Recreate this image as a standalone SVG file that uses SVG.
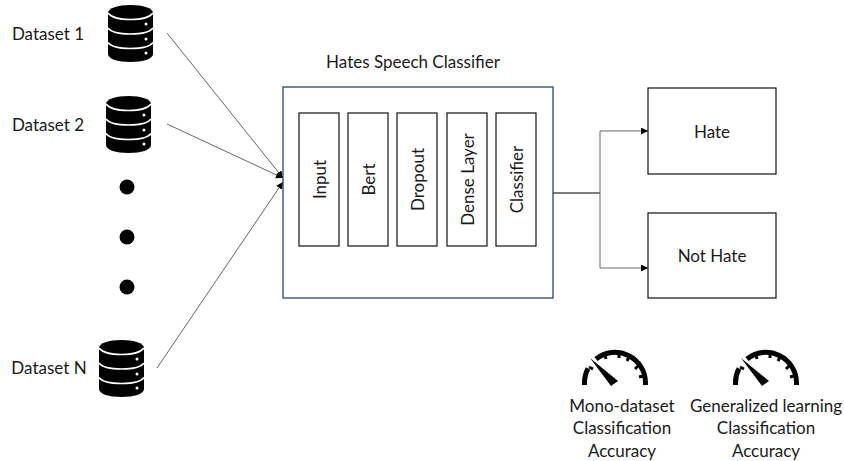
<svg xmlns="http://www.w3.org/2000/svg" xmlns:xlink="http://www.w3.org/1999/xlink" width="844" height="461" viewBox="0 0 844 461">
<style>
text{font-family:"Lato","Liberation Sans",sans-serif;font-size:17px;fill:#1a1a1a;text-anchor:middle}
.box{fill:#fff;stroke:#111;stroke-width:1.2}
.con{fill:none;stroke:#666;stroke-width:1}
</style>
<defs>
<marker id="arr" markerUnits="userSpaceOnUse" markerWidth="8" markerHeight="8" refX="7" refY="3.500" orient="auto"><path d="M0 0L7 3.500L0 7Z" fill="#000"/></marker>
<g id="db">
<path d="M0 9C0 4 10 1 22.500 1S45 4 45 9V50C45 55 35 58 22.500 58S0 55 0 50Z" fill="#000"/>
<path d="M0 9C3 13 12 15.500 22.500 15.500S42 13 45 9M0 24C3 28 12 30 22.500 30S42 28 45 24M0 38.500C3 42.500 12 44.500 22.500 44.500S42 42.500 45 38.500" fill="none" stroke="#fff" stroke-width="1.7"/>
<circle cx="38" cy="20" r="1.500" fill="#fff"/><circle cx="38" cy="35" r="1.500" fill="#fff"/><circle cx="38" cy="49" r="1.500" fill="#fff"/>
</g>
<g id="gauge">
<path d="M-30.500 45V43A30.500 30.500 0 0 1 -27 28.500M-19 19A30.500 30.500 0 0 1 30.500 43V45" fill="none" stroke="#000" stroke-width="5"/>
<path d="M-26 27L-22 29M-10 15L-9 19M4 13V18M14 17L12 21M23 26L20 29M28 36L24 37" stroke="#000" stroke-width="3" fill="none"/>
<path d="M-25 18L3 41L-4 46Z" fill="#000"/>
</g>
</defs>
<g id="connectors">
<path class="con" d="M167 33L283 178" marker-end="url(#arr)"/>
<path class="con" d="M167 124L283 178" marker-end="url(#arr)"/>
<path class="con" d="M157 368L283 182" marker-end="url(#arr)"/>
<path d="M553 193H600" fill="none" stroke="#000" stroke-width="1.2"/>
<path class="con" d="M600 193V131H648" marker-end="url(#arr)"/>
<path class="con" d="M600 193V268H648" marker-end="url(#arr)"/>
</g>
<g id="dataset1"><use xlink:href="#db" x="108" y="4"/><text x="48" y="40">Dataset 1</text></g>
<g id="dataset2"><use xlink:href="#db" x="106" y="95"/><text x="48" y="131">Dataset 2</text></g>
<g id="dots"><circle cx="127" cy="187" r="7.500"/><circle cx="127" cy="237" r="7.500"/><circle cx="127" cy="287" r="7.500"/></g>
<g id="datasetN"><use xlink:href="#db" x="99" y="339"/><text x="49" y="374">Dataset N</text></g>
<g id="classifier">
<text x="413" y="68">Hates Speech Classifier</text>
<rect x="283" y="87" width="270" height="211" fill="none" stroke="#2f4468" stroke-width="1.300"/>
</g>
<g id="input"><rect class="box" x="299" y="113" width="40" height="133"/><text transform="translate(326 179.500) rotate(-90)">Input</text></g>
<g id="bert"><rect class="box" x="348" y="113" width="40" height="133"/><text transform="translate(375 179.500) rotate(-90)">Bert</text></g>
<g id="dropout"><rect class="box" x="397" y="113" width="40" height="133"/><text transform="translate(424 179.500) rotate(-90)">Dropout</text></g>
<g id="dense"><rect class="box" x="447" y="113" width="40" height="133"/><text transform="translate(474 179.500) rotate(-90)">Dense Layer</text></g>
<g id="clf"><rect class="box" x="496" y="113" width="40" height="133"/><text transform="translate(523 179.500) rotate(-90)">Classifier</text></g>
<g id="hate"><rect class="box" x="648" y="88" width="128" height="86"/><text x="712" y="138">Hate</text></g>
<g id="nothate"><rect class="box" x="648" y="213" width="128" height="85"/><text x="712" y="262">Not Hate</text></g>
<g id="mono"><use xlink:href="#gauge" x="615" y="340"/><text x="622" y="412">Mono-dataset</text><text x="622" y="434">Classification</text><text x="622" y="457">Accuracy</text></g>
<g id="general"><use xlink:href="#gauge" x="766" y="340"/><text x="766" y="412">Generalized learning</text><text x="766" y="434">Classification</text><text x="766" y="457">Accuracy</text></g>
</svg>
